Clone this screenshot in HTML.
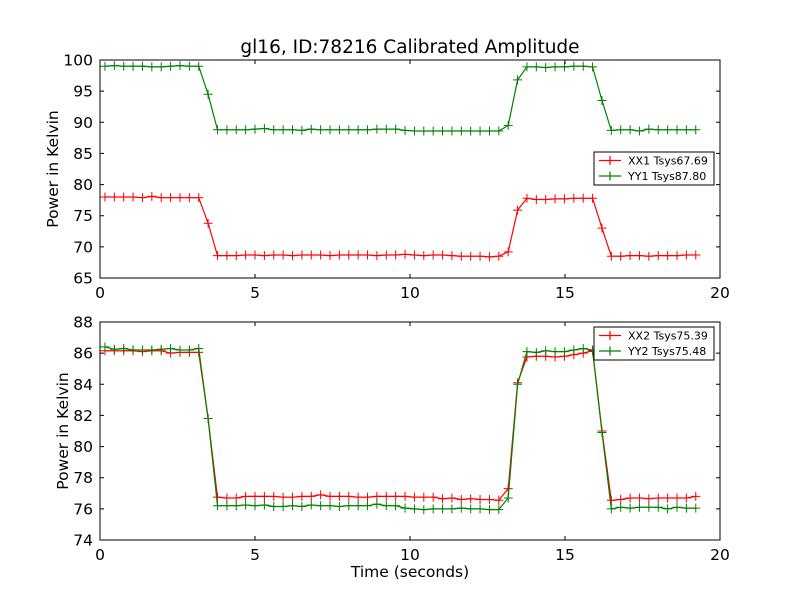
<!DOCTYPE html>
<html><head><meta charset="utf-8"><style>
body{margin:0;background:#fff}
svg{display:block;font-family:"DejaVu Sans","Liberation Sans",sans-serif}
</style></head><body>
<svg id="fig" width="800" height="600" xmlns="http://www.w3.org/2000/svg">
<rect width="800" height="600" fill="#fff"/>
<text x="410" y="53" text-anchor="middle" font-size="18.5">gl16, ID:78216 Calibrated Amplitude</text>
<text transform="translate(58,169) rotate(-90)" text-anchor="middle" font-size="15.5">Power in Kelvin</text>
<text transform="translate(68,431) rotate(-90)" text-anchor="middle" font-size="15.5">Power in Kelvin</text>
<text x="410" y="577" text-anchor="middle" font-size="15.5">Time (seconds)</text>
</svg>
<script>
const xTicks=[0,5,10,15,20];
const topYTicks=[65,70,75,80,85,90,95,100];
const botYTicks=[74,76,78,80,82,84,86,88];
const times=[];for(let i=0;i<64;i++)times.push(+(0.16+0.3025*i).toFixed(3));
const xx1=[78.0,78.0,78.0,78.0,77.9,78.1,77.9,77.9,77.9,77.9,77.9,73.8,68.6,68.6,68.6,68.7,68.7,68.6,68.7,68.7,68.6,68.7,68.7,68.7,68.6,68.7,68.7,68.7,68.7,68.6,68.7,68.7,68.8,68.7,68.6,68.7,68.7,68.6,68.5,68.5,68.5,68.4,68.5,69.2,75.9,77.8,77.6,77.6,77.7,77.7,77.8,77.8,77.8,73.0,68.5,68.5,68.6,68.6,68.5,68.6,68.6,68.6,68.7,68.7];
const yy1=[99.0,99.1,99.0,99.0,99.0,98.9,98.9,99.0,99.1,99.0,99.0,94.5,88.8,88.8,88.8,88.8,88.9,89.0,88.8,88.8,88.8,88.7,88.9,88.8,88.8,88.8,88.8,88.8,88.8,88.9,88.9,88.9,88.7,88.6,88.6,88.6,88.6,88.6,88.6,88.6,88.6,88.6,88.6,89.5,96.8,98.9,98.9,98.8,98.9,98.9,99.0,99.0,98.9,93.5,88.7,88.8,88.8,88.6,88.9,88.8,88.8,88.8,88.8,88.8];
const xx2=[86.15,86.15,86.15,86.15,86.1,86.15,86.15,86.0,86.05,86.05,86.05,81.8,76.75,76.7,76.7,76.8,76.8,76.8,76.8,76.75,76.75,76.8,76.8,76.9,76.8,76.8,76.8,76.75,76.75,76.8,76.8,76.8,76.8,76.75,76.75,76.75,76.65,76.7,76.6,76.65,76.6,76.6,76.55,77.3,84.1,85.75,85.8,85.8,85.75,85.8,85.9,86.0,86.15,81.0,76.55,76.6,76.7,76.7,76.65,76.7,76.7,76.7,76.7,76.8];
const yy2=[86.4,86.25,86.3,86.2,86.2,86.2,86.25,86.3,86.2,86.2,86.3,81.8,76.2,76.2,76.2,76.25,76.2,76.25,76.15,76.15,76.2,76.15,76.25,76.2,76.2,76.15,76.2,76.2,76.2,76.3,76.2,76.2,76.05,76.0,75.95,76.0,76.0,76.0,76.05,76.0,76.0,75.95,75.95,76.7,84.0,86.1,86.05,86.15,86.1,86.1,86.2,86.3,86.2,80.9,76.0,76.1,76.05,76.1,76.1,76.1,76.0,76.1,76.05,76.05];

const svg=document.getElementById('fig');
const NS='http://www.w3.org/2000/svg';
function mk(tag,attrs,parent){const e=document.createElementNS(NS,tag);for(const k in attrs)e.setAttribute(k,attrs[k]);(parent||svg).appendChild(e);return e;}
const X0=100,X1=720;
function xs(v){return X0+(v-0)/(20-0)*(X1-X0);}
function makePanel(name,top,bot,ymin,ymax,yTicks,series,legend){
  const ys=v=>bot-(v-ymin)/(ymax-ymin)*(bot-top);
  const g=mk('g',{});
  
  
  series.forEach(s=>{
    const pts=times.map((t,i)=>xs(t).toFixed(1)+','+ys(s.vals[i]).toFixed(1)).join(' ');
    const pl=mk('polyline',{points:pts,fill:'none',stroke:s.color,'stroke-width':1.2},g);
    
    
    let d='';
    times.forEach((t,i)=>{const x=xs(t),y=ys(s.vals[i]);d+=`M${x-4.5},${y}h9M${x},${y-4.5}v9`;});
    const m=mk('path',{d:d,stroke:s.color,'stroke-width':1},g);
    
    
  });
  const fr=mk('rect',{x:X0,y:top,width:X1-X0,height:bot-top,fill:'none',stroke:'#000','stroke-width':1},g);
  
  
  xTicks.forEach(t=>{
    const x=xs(t);
    mk('path',{d:`M${x},${bot}v-4M${x},${top}v4`,stroke:'#000'},g);
    const tx=mk('text',{x:x,y:bot+20,'text-anchor':'middle','font-size':15.5},g);
    tx.textContent=t;
    
    
  });
  yTicks.forEach(t=>{
    const y=ys(t);
    mk('path',{d:`M${X0},${y}h4M${X1},${y}h-4`,stroke:'#000'},g);
    const tx=mk('text',{x:X0-7,y:y+5.5,'text-anchor':'end','font-size':15.5},g);
    tx.textContent=t;
    
    
  });
  const lg=mk('g',{},g);
  
  
  mk('rect',{x:legend.x,y:legend.y,width:120,height:33,fill:'#fff',stroke:'#000','stroke-width':1},lg);
  series.forEach((s,k)=>{
    const yy=legend.y+8.5+k*15.5;
    mk('path',{d:`M${legend.x+5},${yy}h22M${legend.x+16},${yy-4.5}v9`,stroke:s.color,'stroke-width':1.2},lg);
    const tx=mk('text',{x:legend.x+34,y:yy+4,'font-size':11},lg);
    tx.textContent=s.label;
    
    
  });
}
makePanel('top-panel',60,278,65,100,topYTicks,
  [{name:'xx1',label:'XX1 Tsys67.69',color:'#ff0000',vals:xx1},{name:'yy1',label:'YY1 Tsys87.80',color:'#008000',vals:yy1}],
  {x:594,y:152});
makePanel('bottom-panel',322,540,74,88,botYTicks,
  [{name:'xx2',label:'XX2 Tsys75.39',color:'#ff0000',vals:xx2},{name:'yy2',label:'YY2 Tsys75.48',color:'#008000',vals:yy2}],
  {x:594,y:327});
</script>
</body></html>
